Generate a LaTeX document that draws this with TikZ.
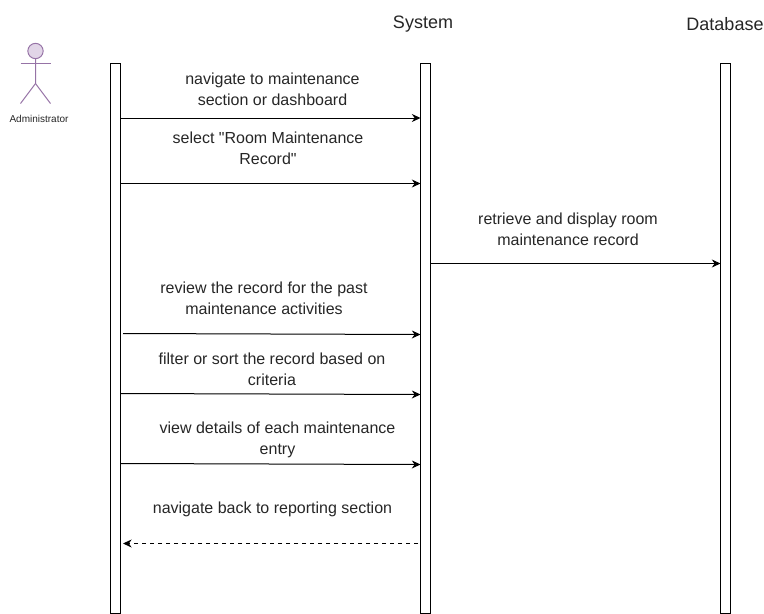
\documentclass[tikz,border=0pt]{standalone}
\usepackage{fontspec}
\setmainfont[Ligatures=TeXOff]{Liberation Sans}
\usetikzlibrary{arrows.meta}
\definecolor{actorline}{HTML}{9673A6}
\definecolor{actorfill}{HTML}{E1D5E7}
\tikzset{
 x=0.75pt,y=-0.75pt,
 life/.style={draw=black,fill=white,line width=0.75pt,minimum width=7.5pt,minimum height=412.25pt,inner sep=0pt,outer sep=0pt},
 msg/.style={draw=black,line width=0.75pt,-{Stealth[length=6.5pt,width=6pt]}},
 ret/.style={msg,dash pattern=on 3pt off 3pt},
 lab/.style={font=\fontsize{12pt}{15.75pt}\selectfont,align=center,text=black!85,inner sep=0pt},
 head/.style={font=\fontsize{13.5pt}{15pt}\selectfont,text=black!85,inner sep=0pt},
 actor/.style={draw=actorline,line width=0.75pt},
}
\begin{document}
\begin{tikzpicture}
\useasboundingbox (0,0) rectangle (764,614);
\node[life] (L1) at (115.5,338.3) {};
\node[life] (L2) at (425.5,338.3) {};
\node[life] (L3) at (725.5,338.3) {};
\node[head] (hS) at (423,24.5) {System};
\node[head] (hD) at (725,24) {Database};
\node[circle,draw=actorline,fill=actorfill,line width=0.75pt,minimum size=11.5pt,inner sep=0pt,outer sep=0pt] (hd) at (35.5,51) {};
\coordinate (hip) at (35.5,83.5);
\coordinate (armL) at (20.5,63.5);
\coordinate (armR) at (50.5,63.5);
\coordinate (legL) at (20.5,103.5);
\coordinate (legR) at (50.5,103.5);
\draw[actor] (hd.south) -- (hip) -- (legL);
\draw[actor] (hip) -- (legR);
\draw[actor] (armL) -- (armR);
\node[font=\fontsize{7.5pt}{8pt}\selectfont,text=black!85,inner sep=0pt] (adm) at (39,118.5) {Administrator};
\node[lab] (m1) at (272.5,89) {navigate to maintenance\\section or dashboard};
\node[lab] (m2) at (268,148) {select "Room Maintenance\\Record"};
\node[lab] (m3) at (568,229) {retrieve and display room\\maintenance record};
\node[lab] (m4) at (264,298.5) {review the record for the past\\maintenance activities};
\node[lab] (m5) at (272,369) {filter or sort the record based on\\criteria};
\node[lab] (m6) at (277.5,439.5) {view details of each maintenance\\entry};
\node[lab] (m7) at (272.5,509.5) {navigate back to reporting section};
\coordinate (a1s) at (120.5,118);\coordinate (a1e) at (420.5,118);
\coordinate (a2s) at (120.5,183.5);\coordinate (a2e) at (420.5,183.5);
\coordinate (a3s) at (430.5,263.5);\coordinate (a3e) at (720.5,263.5);
\coordinate (a4s) at (123,333.5);\coordinate (a4e) at (420.5,334.5);
\coordinate (a5s) at (120.5,393.5);\coordinate (a5e) at (420.5,394.5);
\coordinate (a6s) at (120.5,463.5);\coordinate (a6e) at (420.5,464.5);
\coordinate (a7s) at (418,543.5);\coordinate (a7e) at (123,543.5);
\draw[msg] (a1s) -- (a1e);
\draw[msg] (a2s) -- (a2e);
\draw[msg] (a3s) -- (a3e);
\draw[msg] (a4s) -- (a4e);
\draw[msg] (a5s) -- (a5e);
\draw[msg] (a6s) -- (a6e);
\draw[ret] (a7s) -- (a7e);
\end{tikzpicture}
\end{document}
